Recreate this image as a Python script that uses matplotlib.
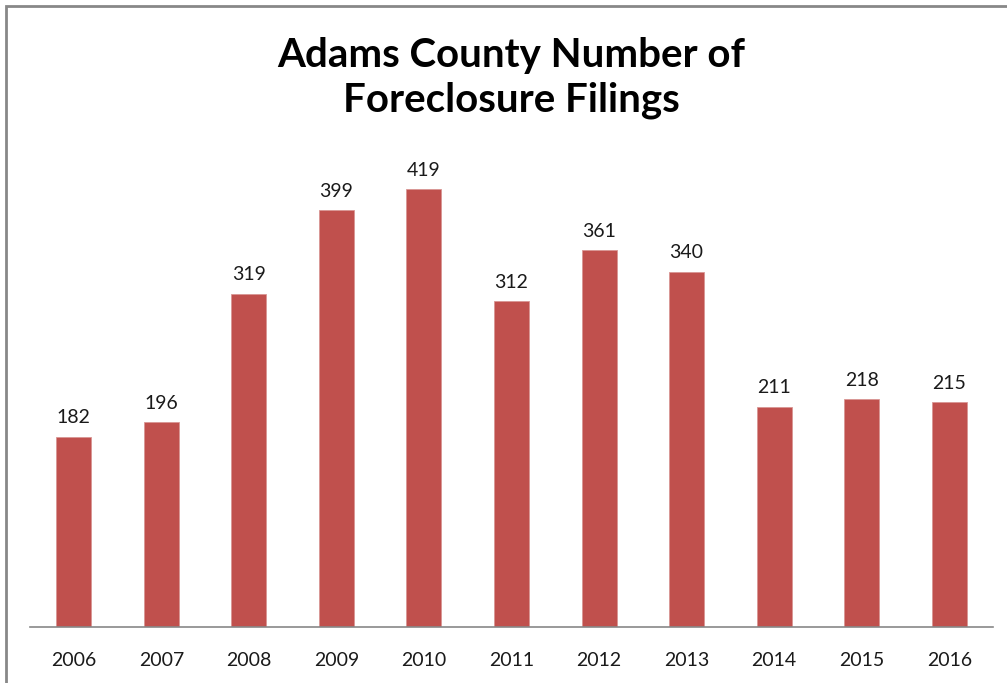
import matplotlib.pyplot as plt
import numpy as np
from matplotlib.patches import Rectangle

# Adams County foreclosure filings per year
years = ['2006', '2007', '2008', '2009', '2010', '2011', '2012', '2013', '2014', '2015', '2016']
filings = [182, 196, 319, 399, 419, 312, 361, 340, 211, 218, 215]

W, H = 1007, 683
fig = plt.figure(figsize=(W/100, H/100), dpi=100, facecolor='w')
ax = fig.add_axes([30/W, 56/H, 963/W, (627-157)/H])

x = np.arange(len(years))
bars = ax.bar(x, filings, width=0.4, color='#C0504D', edgecolor='#D99694', linewidth=0.6)
for xi, v in zip(x, filings):
    ax.text(xi, v + 10, str(v), ha='center', va='bottom', fontsize=14, family='Lato', color='#1a1a1a')

ax.set_xlim(-0.5, len(years) - 0.5)
ax.set_ylim(0, 450)
ax.set_xticks(x)
ax.set_xticklabels(years, fontsize=14, family='Lato', color='#1a1a1a')
ax.tick_params(axis='x', length=0, pad=18)
ax.set_yticks([])
for s in ['top', 'right', 'left']:
    ax.spines[s].set_visible(False)
ax.spines['bottom'].set_color('#888888')
ax.spines['bottom'].set_linewidth(1.2)

fig.text(511/W, 1 - 78/H, 'Adams County Number of\nForeclosure Filings', ha='center', va='center',
         fontsize=29, fontweight='bold', family='Lato', linespacing=1.25)

# chart border
fig.patches.append(Rectangle((6/W, -0.05), 1.1, 1 - 6/H + 0.05, transform=fig.transFigure,
                             fill=False, edgecolor='#888888', linewidth=2))

fig.savefig('out.png', dpi=100)
